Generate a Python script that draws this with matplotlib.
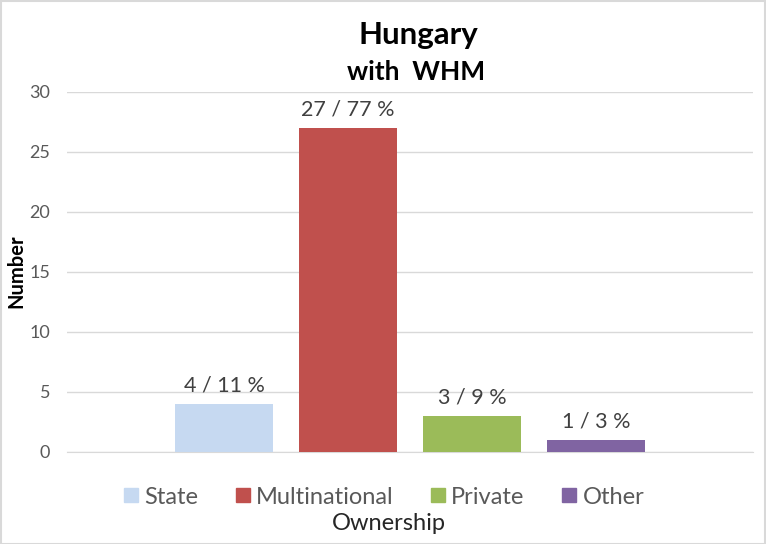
import matplotlib
matplotlib.use("Agg")
import matplotlib.pyplot as plt
from matplotlib.patches import Rectangle
from matplotlib.lines import Line2D

categories = ["State", "Multinational", "Private", "Other"]
counts = [4, 27, 3, 1]
percents = [11, 77, 9, 3]
colors = ["#c6d9f1", "#c0504d", "#9bbb59", "#8064a2"]
yticks = [0, 5, 10, 15, 20, 25, 30]

W, H = 766, 544
plt.rcParams['font.family'] = ['Lato', 'DejaVu Sans']
fig = plt.figure(figsize=(W/100, H/100), dpi=100)

def fx(px): return px / W
def fy(py): return 1 - py / H

left, right, top, bottom = 67, 753, 91.5, 451.5
ax = fig.add_axes([fx(left), fy(bottom), fx(right) - fx(left), fy(top) - fy(bottom)])

x = list(range(len(categories)))
bars = ax.bar(x, counts, width=0.79, color=colors, zorder=3)
for xi, c, p in zip(x, counts, percents):
    ax.annotate(f"{c} / {p} %", (xi, c), xytext=(0, 6), textcoords="offset points",
                ha="center", va="bottom", fontsize=15.5, color="#404040")

ax.set_xlim(1.5 - 2.766, 1.5 + 2.766)
ax.set_ylim(0, 30)
ax.set_yticks(yticks)
ax.set_xticks([])
ax.grid(axis="y", color="#d9d9d9", linewidth=1, zorder=0)
for s in ["top", "right", "left"]:
    ax.spines[s].set_visible(False)
ax.spines["bottom"].set_color("#d9d9d9")
ax.tick_params(axis="y", length=0, labelsize=13, labelcolor="#595959", pad=12)

fig.text(fx(418), fy(35), "Hungary", ha="center", va="center", fontsize=22.5, fontweight="bold")
fig.text(fx(416), fy(72), "with  WHM", ha="center", va="center", fontsize=19, fontweight="bold")
fig.text(fx(16), fy(271), "Number", rotation=90, ha="center", va="center", fontsize=14.5, fontweight="bold")
fig.text(fx(389), fy(524), "Ownership", ha="center", va="center", fontsize=17, color="#262626")

handles = [Line2D([], [], marker="s", linestyle="none", markersize=10, markerfacecolor=c, markeredgecolor=c)
           for c in colors]
fig.legend(handles, categories, loc="center", bbox_to_anchor=(fx(384), fy(497)), ncol=4, frameon=False,
           fontsize=17, labelcolor="#595959", handletextpad=0.25, columnspacing=1.6, handlelength=0.6,
           borderpad=0, borderaxespad=0)

fig.patches.append(Rectangle((0.5/W, 0.5/H), 1 - 1.5/W, 1 - 1.5/H, transform=fig.transFigure,
                             fill=False, edgecolor="#d9d9d9", linewidth=1.5))

fig.savefig("out.png", dpi=100)
